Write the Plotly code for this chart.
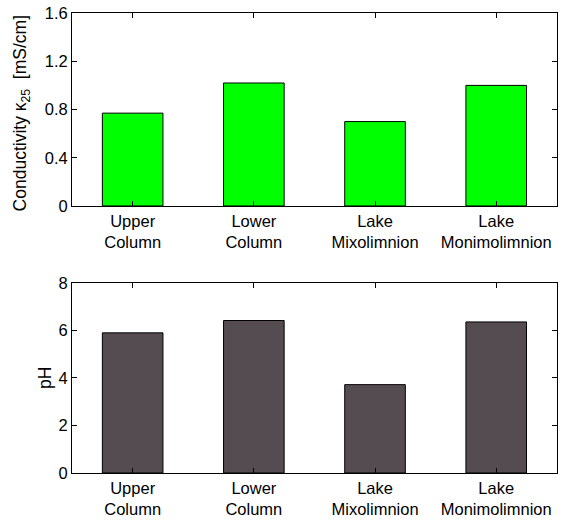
import plotly.graph_objects as go

categories = ["Upper<br>Column", "Lower<br>Column", "Lake<br>Mixolimnion", "Lake<br>Monimolimnion"]
conductivity = [0.77, 1.02, 0.70, 1.00]
ph = [5.9, 6.42, 3.72, 6.36]
cond_ticks = [0, 0.4, 0.8, 1.2, 1.6]
cond_ticktext = ["0", "0.4", "0.8", "1.2", "1.6"]
ph_ticks = [0, 2, 4, 6, 8]
cond_label = "Conductivity κ<sub>25</sub>  [mS/cm]"
ph_label = "pH"

xpos = [1, 2, 3, 4]

fig = go.Figure()
fig.add_trace(go.Bar(x=xpos, y=conductivity, width=0.5,
                     marker=dict(color="#00FF00", line=dict(color="black", width=1)),
                     xaxis="x", yaxis="y", showlegend=False))
fig.add_trace(go.Bar(x=xpos, y=ph, width=0.5,
                     marker=dict(color="#554C51", line=dict(color="black", width=1)),
                     xaxis="x2", yaxis="y2", showlegend=False))

FAM = "Liberation Sans, Arial, sans-serif"
font = dict(family=FAM, size=16.5, color="black")
axcommon = dict(showline=True, linecolor="black", linewidth=1, mirror="ticks",
                ticks="inside", ticklen=5, tickcolor="black", showgrid=False,
                zeroline=False, tickfont=font, automargin=False)

fig.update_layout(
    width=563, height=522,
    autosize=False,
    margin=dict(l=0, r=0, t=0, b=0, pad=0),
    paper_bgcolor="white", plot_bgcolor="white",
    font=font,
    xaxis=dict(domain=[0.128, 0.989], range=[0.5, 4.5], tickvals=xpos, ticktext=categories,
               anchor="y", **axcommon),
    yaxis=dict(domain=[0.6054, 0.975], range=[0, 1.6], tickvals=cond_ticks, ticktext=cond_ticktext,
               anchor="x", **axcommon),
    xaxis2=dict(domain=[0.128, 0.989], range=[0.5, 4.5], tickvals=xpos, ticktext=categories,
                anchor="y2", **axcommon),
    yaxis2=dict(domain=[0.0939, 0.4579], range=[0, 8], tickvals=ph_ticks,
                anchor="x2", **axcommon),
    annotations=[
        dict(text=cond_label, textangle=-90, xref="paper", yref="paper",
             x=0.039, y=0.7826, xanchor="center", yanchor="middle", showarrow=False,
             font=dict(family=FAM, size=17.5, color="black")),
        dict(text=ph_label, textangle=-90, xref="paper", yref="paper",
             x=0.081, y=0.275, xanchor="center", yanchor="middle", showarrow=False,
             font=dict(family=FAM, size=17.5, color="black")),
    ],
)

fig.write_html("out.html")
